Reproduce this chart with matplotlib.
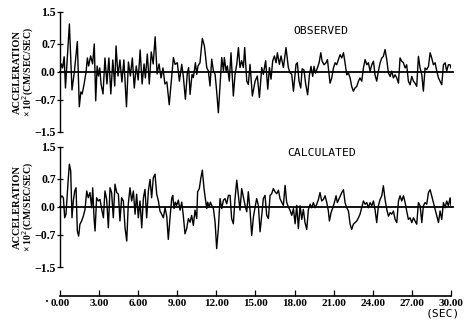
import numpy as np
import matplotlib
matplotlib.use("Agg")
import matplotlib.pyplot as plt

# observed record (time in sec, acceleration x10^2 cm/sec/sec)
t_obs = [0.00, 0.10, 0.20, 0.32, 0.42, 0.72, 0.92, 1.10, 1.33, 1.48, 1.60, 1.70, 1.85, 2.00,
         2.10, 2.20, 2.35, 2.50, 2.63, 2.74, 2.85, 2.95, 3.05, 3.15, 3.30, 3.45, 3.60, 3.75,
         3.90, 4.05, 4.20, 4.30, 4.45, 4.60, 4.75, 4.90, 5.10, 5.25, 5.40, 5.55, 5.70, 5.85,
         6.00, 6.15, 6.30, 6.45, 6.55, 6.70, 6.85, 7.00, 7.15, 7.30, 7.45, 7.60, 7.75, 7.90,
         8.05, 8.20, 8.38, 8.70, 8.83, 9.00, 9.16, 9.34, 9.46, 9.62, 9.77, 9.87, 9.98, 10.13,
         10.23, 10.39, 10.49, 10.59, 10.74, 10.92, 11.08, 11.26, 11.38, 11.51, 11.64, 11.77,
         11.90, 12.02, 12.15, 12.28, 12.41, 12.54, 12.61, 12.74, 12.84, 12.99, 13.12, 13.30,
         13.43, 13.56, 13.69, 13.81, 13.94, 14.07, 14.17, 14.33, 14.45, 14.58, 14.76, 14.97,
         15.14, 15.30, 15.48, 15.60, 15.78, 15.94, 16.07, 16.19, 16.32, 16.45, 16.58, 16.68,
         16.83, 16.96, 17.14, 17.34, 17.52, 17.65, 17.78, 17.91, 18.11, 18.21, 18.34, 18.47,
         18.58, 18.72, 18.85, 19.00, 19.14, 19.26, 19.39, 19.49, 19.60, 19.75, 19.88, 20.01,
         20.11, 20.26, 20.41, 20.52, 20.62, 20.72, 20.85, 20.98, 21.11, 21.23, 21.36, 21.49,
         21.62, 21.75, 21.87, 22.00, 22.13, 22.26, 22.38, 22.51, 22.64, 22.77, 22.90, 23.02,
         23.15, 23.28, 23.41, 23.54, 23.66, 23.79, 23.92, 24.05, 24.17, 24.30, 24.43, 24.56,
         24.69, 24.81, 24.94, 25.07, 25.20, 25.33, 25.45, 25.58, 25.71, 25.84, 25.97, 26.09,
         26.22, 26.35, 26.48, 26.60, 26.73, 26.86, 26.99, 27.12, 27.24, 27.37, 27.50, 27.63,
         27.76, 27.88, 28.01, 28.14, 28.27, 28.40, 28.52, 28.65, 28.78, 28.91, 29.04, 29.16,
         29.29, 29.42, 29.55, 29.67, 29.80, 29.93, 30.00]
a_obs = [0.00, 0.20, 0.10, 0.38, -0.40, 1.20, -0.45, 0.00, 0.76, -0.87, -0.50, -0.55, -0.30, 0.00,
         0.35, 0.15, 0.40, 0.20, 0.70, -0.72, 0.15, -0.10, 0.10, -0.30, -0.55, 0.35, -0.30, 0.35,
         -0.55, 0.30, -0.35, 0.65, -0.10, 0.30, -0.25, 0.30, -0.87, 0.25, -0.10, 0.35, -0.40, 0.15,
         -0.20, 0.55, -0.30, 0.20, -0.15, 0.45, -0.30, 0.50, 0.20, 0.88, -0.05, 0.20, -0.15, 0.10,
         -0.30, -0.25, -0.82, 0.36, 0.19, 0.23, -0.23, 0.19, -0.10, -0.68, -0.02, 0.11, -0.56, -0.06,
         -0.14, 0.23, -0.06, 0.15, 0.23, 0.84, 0.65, 0.11, 0.03, -0.35, 0.32, 0.03,
         -0.06, -0.48, -1.02, -0.31, 0.36, 0.03, 0.36, 0.03, 0.15, -0.23, 0.48, -0.60,
         -0.06, 0.19, 0.61, 0.11, 0.28, 0.11, 0.61, -0.23, -0.31, 0.19, -0.60, -0.23,
         -0.10, -0.64, 0.11, -0.06, 0.28, -0.43, 0.11, -0.18, 0.28, 0.40, 0.23, 0.48,
         0.19, 0.40, 0.11, 0.61, 0.11, -0.02, -0.06, -0.48, 0.19, 0.23, -0.23, -0.40,
         0.08, 0.05, -0.30, -0.57, -0.07, 0.14, -0.11, 0.14, -0.03, 0.10, 0.23, 0.48,
         0.27, 0.18, 0.23, 0.31, 0.02, -0.28, -0.15, 0.10, 0.23, 0.18, 0.31, 0.43,
         0.35, 0.48, 0.23, -0.07, -0.03, -0.15, -0.36, -0.48, -0.40, -0.36, -0.23, -0.15,
         -0.23, 0.10, 0.31, 0.18, 0.23, 0.02, 0.18, 0.27, -0.07, -0.23, 0.02, 0.23,
         0.35, 0.39, 0.56, 0.31, -0.03, -0.11, 0.02, -0.15, -0.07, -0.15, -0.28, 0.35,
         0.27, 0.23, 0.10, 0.18, -0.23, -0.32, -0.11, -0.23, -0.28, -0.36, 0.39, 0.10,
         -0.07, -0.48, 0.10, 0.06, 0.14, 0.48, 0.35, 0.18, 0.23, 0.02, -0.15, -0.23,
         -0.32, 0.18, 0.23, 0.02, 0.18, 0.18, 0.10]

# calculated record
t_cal = [0.05, 0.15, 0.26, 0.36, 0.46, 0.56, 0.64, 0.72, 0.82, 0.92, 1.02, 1.13, 1.23, 1.33,
         1.43, 1.53, 1.66, 1.79, 1.92, 2.05, 2.17, 2.30, 2.43, 2.51, 2.61, 2.69, 2.81, 2.94,
         3.07, 3.20, 3.33, 3.45, 3.58, 3.71, 3.84, 3.96, 4.09, 4.22, 4.35, 4.48, 4.60, 4.73,
         4.86, 4.99, 5.12, 5.24, 5.37, 5.50, 5.63, 5.76, 5.88, 6.01, 6.14, 6.27, 6.40, 6.52,
         6.65, 6.78, 6.91, 7.03, 7.16, 7.29, 7.42, 7.55, 7.67, 7.80, 7.93, 8.06, 8.19, 8.31,
         8.44, 8.57, 8.65, 8.75, 8.85, 8.95, 9.08, 9.21, 9.34, 9.46, 9.59, 9.72, 9.85, 9.98,
         10.10, 10.23, 10.36, 10.49, 10.56, 10.69, 10.80, 10.92, 11.05, 11.15, 11.26, 11.33,
         11.44, 11.54, 11.64, 11.77, 11.90, 12.02, 12.15, 12.28, 12.41, 12.54, 12.66, 12.79,
         12.92, 13.05, 13.17, 13.30, 13.43, 13.56, 13.69, 13.81, 13.94, 14.07, 14.20, 14.33,
         14.45, 14.58, 14.71, 14.84, 14.97, 15.09, 15.22, 15.35, 15.48, 15.60, 15.73, 15.86,
         15.99, 16.12, 16.24, 16.37, 16.50, 16.63, 16.76, 16.88, 17.01, 17.14, 17.27, 17.39,
         17.52, 17.65, 17.78, 17.91, 18.04, 18.16, 18.29, 18.42, 18.55, 18.67, 18.80, 18.93,
         19.06, 19.19, 19.31, 19.44, 19.57, 19.70, 19.83, 19.95, 20.08, 20.21, 20.34, 20.47,
         20.59, 20.67, 20.80, 20.93, 21.05, 21.18, 21.28, 21.44, 21.62, 21.75, 21.87, 22.00,
         22.13, 22.26, 22.38, 22.51, 22.64, 22.77, 22.90, 23.02, 23.15, 23.28, 23.41, 23.54,
         23.66, 23.79, 23.92, 24.05, 24.17, 24.30, 24.43, 24.56, 24.69, 24.81, 24.94, 25.07,
         25.20, 25.33, 25.45, 25.58, 25.71, 25.84, 25.97, 26.09, 26.22, 26.35, 26.48, 26.60,
         26.73, 26.86, 26.99, 27.12, 27.24, 27.37, 27.50, 27.63, 27.76, 27.88, 28.01, 28.14,
         28.27, 28.40, 28.52, 28.65, 28.78, 28.91, 29.04, 29.16, 29.29, 29.42, 29.55, 29.67,
         29.80, 29.93, 30.00]
a_cal = [0.23, 0.28, 0.23, -0.27, -0.18, 0.32, 0.73, 1.07, 0.90, -0.27, 0.15, 0.40, 0.48, -0.60,
         -0.73, -0.43, -0.35, -0.23, -0.06, 0.40, 0.23, 0.36, -0.02, 0.48, -0.27, -0.60, 0.23, 0.15,
         0.19, -0.06, -0.27, 0.40, 0.19, -0.52, 0.48, 0.36, -0.27, 0.57, 0.36, 0.32, -0.35, 0.23,
         0.15, -0.52, -0.85, 0.07, 0.48, 0.15, 0.40, -0.18, 0.32, -0.27, 0.15, -0.52, 0.23, 0.44,
         -0.27, 0.40, 0.69, 0.23, 0.73, 0.82, 0.32, 0.15, -0.10, -0.18, -0.27, -0.02, -0.23, -0.81,
         -0.27, 0.21, 0.29, -0.04, 0.12, 0.04, 0.17, -0.08, 0.12, -0.21, -0.67, -0.54, -0.29, -0.38,
         -0.21, -0.46, -0.08, -0.29, 0.38, 0.46, 0.71, 0.92, 0.46, 0.21, -0.04, 0.12,
         0.00, 0.12, 0.04, -0.04, -0.38, -1.04, -0.54, 0.21, -0.04, 0.17, 0.21, 0.08,
         0.29, 0.29, -0.29, -0.42, 0.21, 0.67, 0.29, -0.08, 0.46, 0.25, 0.04, -0.12,
         0.38, -0.08, -0.71, -0.25, 0.00, 0.21, 0.04, -0.62, -0.21, 0.21, 0.29, -0.21,
         -0.29, 0.29, 0.33, 0.46, 0.38, 0.33, 0.42, 0.21, 0.12, 0.04, 0.54, 0.12,
         0.00, -0.08, -0.21, -0.04, -0.42, 0.04, -0.54, 0.03, -0.31, -0.06, -0.39, -0.56,
         -0.06, 0.07, -0.02, 0.11, -0.02, 0.07, 0.19, 0.36, 0.15, 0.19, 0.28, 0.11,
         -0.10, -0.35, -0.14, -0.02, 0.11, 0.28, 0.11, 0.23, 0.36, 0.43, 0.11, -0.02,
         -0.10, -0.43, -0.56, -0.43, -0.39, -0.35, -0.27, -0.18, -0.02, 0.15, 0.07, 0.11,
         -0.02, 0.11, 0.03, 0.15, -0.06, -0.39, 0.03, 0.19, 0.28, 0.53, 0.19, -0.06,
         -0.23, -0.14, -0.18, -0.10, -0.31, -0.39, 0.15, 0.28, 0.15, 0.28, 0.11, -0.10,
         -0.31, -0.27, -0.39, -0.27, -0.35, -0.43, 0.11, 0.03, -0.39, 0.03, 0.11, 0.07,
         0.36, 0.43, 0.28, 0.11, -0.06, -0.23, -0.39, -0.10, -0.31, 0.11, -0.02, 0.15,
         0.03, 0.23, 0.03]

yticks = [1.5, 0.7, 0.0, -0.7, -1.5]
ytick_labels = ["1.5", "0.7", "0.0", "\u22120.7", "\u22121.5"]
xticks = [0, 3, 6, 9, 12, 15, 18, 21, 24, 27, 30]
xtick_labels = ["%.2f" % v for v in xticks]

serif = "Liberation Serif"
plotter = "DejaVu Sans Mono"

fig = plt.figure(figsize=(4.66, 3.21), dpi=100)

x0, w = 60 / 466, 391 / 466
panels = [
    (t_obs, a_obs, "OBSERVED", 0.5888, (293, 31)),
    (t_cal, a_cal, "CALCULATED", 0.1682, (287, 153)),
]

for t, a, name, bottom, (tx, ty) in panels:
    ax = fig.add_axes([x0, bottom, w, 0.374])
    ax.plot(t, a, color="black", lw=1.0)
    ax.axhline(0, xmin=0, xmax=1.005, color="black", lw=1.3, clip_on=False)
    ax.set_xlim(0, 30)
    ax.set_ylim(-1.5, 1.5)
    for s in ["top", "right", "bottom"]:
        ax.spines[s].set_visible(False)
    ax.spines["left"].set_linewidth(1.0)
    ax.set_xticks([])
    ax.set_yticks(yticks)
    ax.set_yticklabels(ytick_labels, fontfamily=serif, fontsize=8.5, fontweight="bold")
    ax.tick_params(axis="y", direction="inout", length=4, width=0.9, pad=1)
    fig.text(tx / 466, 1 - ty / 321, name, fontfamily=plotter, fontsize=8.2,
             ha="left", va="center")
    fig.text(17 / 466, bottom + 0.187, "ACCELERATION", rotation=90, fontfamily=serif,
             fontsize=7.5, fontweight="bold", ha="center", va="center")
    fig.text(28 / 466, bottom + 0.187, "\u00d7 10$^2$(CM/SEC/SEC)", rotation=90,
             fontfamily=serif, fontsize=7, fontweight="bold", ha="center", va="center")

# time axis
axt = fig.add_axes([x0, 1 - 296 / 321, w, 0.05])
axt.set_xlim(0, 30)
axt.set_ylim(0, 1)
for s in ["top", "right", "left"]:
    axt.spines[s].set_visible(False)
axt.spines["bottom"].set_linewidth(1.2)
axt.set_yticks([])
axt.set_xticks(xticks)
axt.set_xticklabels(xtick_labels, fontfamily=serif, fontsize=8, fontweight="bold")
axt.tick_params(axis="x", direction="in", length=4, width=0.9, pad=2)
fig.text(443 / 466, 1 - 313 / 321, "(SEC)", fontfamily=plotter, fontsize=8.2,
         ha="center", va="center")
fig.text(47 / 466, 1 - 302 / 321, "\u2022", fontsize=5, ha="center", va="center")

fig.savefig("out.png", dpi=100)
